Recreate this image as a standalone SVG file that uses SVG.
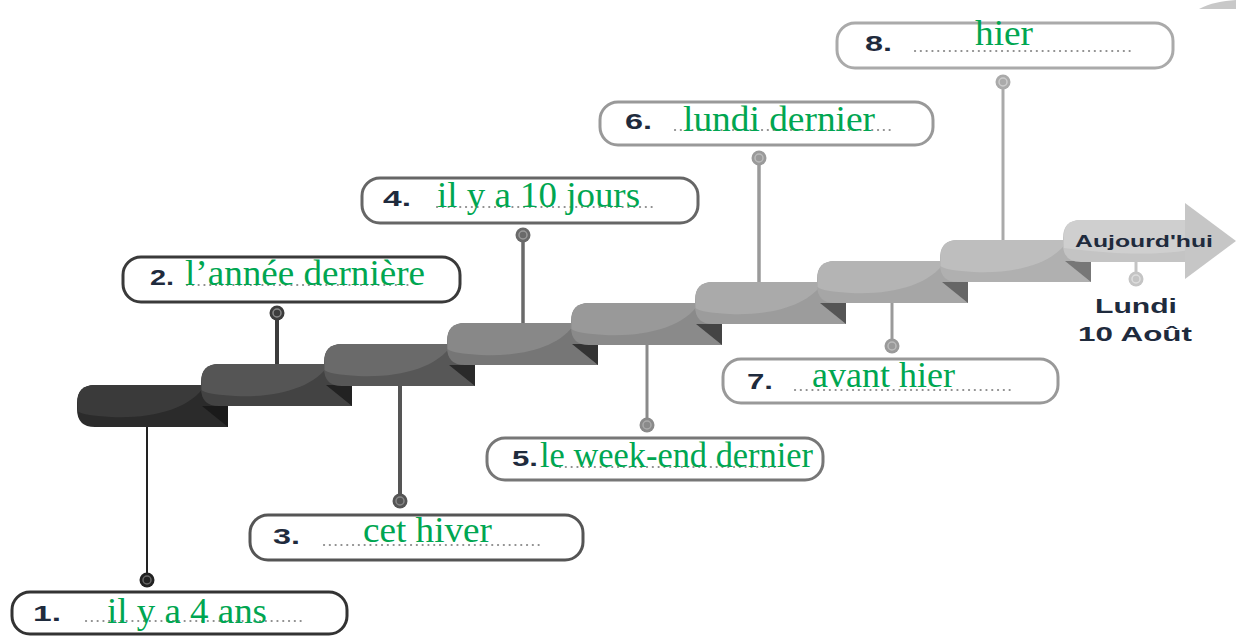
<svg xmlns="http://www.w3.org/2000/svg" xmlns:xlink="http://www.w3.org/1999/xlink" width="1236" height="637" viewBox="0 0 1236 637">
<style>
.box{fill:#fff;stroke-width:3}
.num{font-family:"Liberation Sans",Arial,sans-serif;font-weight:bold;font-size:22px;fill:#1f2b3d}
.ans{font-family:"Liberation Serif","Times New Roman",serif;font-size:36px;fill:#00a651}
.dots{stroke:#8c8c8c;stroke-width:2.2;stroke-linecap:round;stroke-dasharray:0.1 5.7;fill:none}
.info{font-family:"Liberation Sans",Arial,sans-serif;font-weight:bold;fill:#1f2b3d}
</style>
<defs>
<path id="sBase" d="M18,0 H151 V42 H18 Q0,42 0,24 V18 Q0,0 18,0 Z"/>
<path id="sTop" d="M18,0 H128 C114,24 74,34 34,32 C16,31 3,29 0.5,26 V18 Q0,0 18,0 Z"/>
<path id="sTri" d="M125,21 H151 V42 Z"/>
</defs>
<rect width="1236" height="637" fill="#fff"/>
<path d="M1199,9 C1210,3 1222,1 1236,0 V9 Z" fill="#c8c8c8"/>

<g id="connectors">
<line x1="147" y1="420" x2="147" y2="574" stroke="#222" stroke-width="2"/>
<line x1="277" y1="318" x2="277" y2="370" stroke="#3c3c3c" stroke-width="4"/>
<line x1="400" y1="380" x2="400" y2="496" stroke="#555" stroke-width="4"/>
<line x1="523" y1="240" x2="523" y2="328" stroke="#6a6a6a" stroke-width="3.5"/>
<line x1="647" y1="340" x2="647" y2="419" stroke="#8a8a8a" stroke-width="3"/>
<line x1="759" y1="163" x2="759" y2="286" stroke="#9a9a9a" stroke-width="3.5"/>
<line x1="892" y1="295" x2="892" y2="341" stroke="#9a9a9a" stroke-width="3"/>
<line x1="1003" y1="88" x2="1003" y2="244" stroke="#aaa" stroke-width="3"/>
<line x1="1136" y1="258" x2="1136" y2="274" stroke="#c4c4c4" stroke-width="3"/>
<g stroke-width="1.5">
<circle cx="147" cy="580" r="7.5" fill="#222"/><circle cx="147" cy="580" r="4" fill="#222" stroke="#666"/>
<circle cx="277" cy="313" r="7.5" fill="#3c3c3c"/><circle cx="277" cy="313" r="4" fill="#3c3c3c" stroke="#888"/>
<circle cx="400" cy="501" r="7.5" fill="#555"/><circle cx="400" cy="501" r="4" fill="#555" stroke="#888"/>
<circle cx="523" cy="235" r="7.5" fill="#6a6a6a"/><circle cx="523" cy="235" r="4" fill="#6a6a6a" stroke="#999"/>
<circle cx="647" cy="425" r="7.5" fill="#8a8a8a"/><circle cx="647" cy="425" r="4" fill="#8a8a8a" stroke="#aaa"/>
<circle cx="759" cy="158" r="7.5" fill="#9a9a9a"/><circle cx="759" cy="158" r="4" fill="#9a9a9a" stroke="#bbb"/>
<circle cx="892" cy="346" r="7.5" fill="#9a9a9a"/><circle cx="892" cy="346" r="4" fill="#9a9a9a" stroke="#bbb"/>
<circle cx="1003" cy="82" r="7.5" fill="#aaa"/><circle cx="1003" cy="82" r="4" fill="#aaa" stroke="#ccc"/>
<circle cx="1136" cy="279" r="7.5" fill="#c4c4c4"/><circle cx="1136" cy="279" r="4" fill="#c4c4c4" stroke="#ddd"/>
</g>
</g>

<g id="steps">
<g id="step1" transform="translate(77,385)"><use xlink:href="#sBase" fill="#2b2b2b"/><use xlink:href="#sTop" fill="#3a3a3a"/><use xlink:href="#sTri" fill="#1a1a1a"/></g>
<g id="step2" transform="translate(201,364)"><use xlink:href="#sBase" fill="#434343"/><use xlink:href="#sTop" fill="#555"/><use xlink:href="#sTri" fill="#222"/></g>
<g id="step3" transform="translate(324,344)"><use xlink:href="#sBase" fill="#575757"/><use xlink:href="#sTop" fill="#6a6a6a"/><use xlink:href="#sTri" fill="#2a2a2a"/></g>
<g id="step4" transform="translate(447,323)"><use xlink:href="#sBase" fill="#767676"/><use xlink:href="#sTop" fill="#888"/><use xlink:href="#sTri" fill="#333"/></g>
<g id="step5" transform="translate(571,303)"><use xlink:href="#sBase" fill="#8a8a8a"/><use xlink:href="#sTop" fill="#999"/><use xlink:href="#sTri" fill="#444"/></g>
<g id="step6" transform="translate(695,282)"><use xlink:href="#sBase" fill="#9c9c9c"/><use xlink:href="#sTop" fill="#aaa"/><use xlink:href="#sTri" fill="#555"/></g>
<g id="step7" transform="translate(817,261)"><use xlink:href="#sBase" fill="#a6a6a6"/><use xlink:href="#sTop" fill="#b4b4b4"/><use xlink:href="#sTri" fill="#666"/></g>
<g id="step8" transform="translate(940,240)"><use xlink:href="#sBase" fill="#b0b0b0"/><use xlink:href="#sTop" fill="#bebebe"/><use xlink:href="#sTri" fill="#777"/></g>
<g id="arrow">
<path d="M1081,220 H1190 V262 H1081 Q1063,262 1063,244 V238 Q1063,220 1081,220 Z" fill="#c4c4c4"/>
<path d="M1081,220 H1190 V250 C1150,256 1110,254 1064,248 V238 Q1063,220 1081,220 Z" fill="#cfcfcf"/>
<path d="M1185,203 L1236,241 L1185,279 Z" fill="#c6c6c6"/>
<text class="info" x="1075" y="247" font-size="17" textLength="138" lengthAdjust="spacingAndGlyphs">Aujourd'hui</text>
</g>
<g id="today">
<text class="info" x="1095" y="313" font-size="21" textLength="82" lengthAdjust="spacingAndGlyphs">Lundi</text>
<text class="info" x="1078" y="341" font-size="21" textLength="114" lengthAdjust="spacingAndGlyphs">10 Août</text>
</g>
</g>

<g id="box1">
<rect class="box" x="12" y="592" width="335" height="42" rx="18" stroke="#333"/>
<text class="num" x="33" y="621" textLength="28" lengthAdjust="spacingAndGlyphs">1.</text>
<line class="dots" x1="86" y1="621" x2="302" y2="621"/>
<text class="ans" x="107" y="623" textLength="160" lengthAdjust="spacingAndGlyphs">il y a 4 ans</text>
</g>
<g id="box2">
<rect class="box" x="123" y="257" width="337" height="45" rx="18" stroke="#3a3a3a"/>
<text class="num" x="150" y="285" textLength="24" lengthAdjust="spacingAndGlyphs">2.</text>
<line class="dots" x1="187" y1="285" x2="408" y2="285"/>
<text class="ans" x="185" y="285" textLength="240" lengthAdjust="spacingAndGlyphs">l’année dernière</text>
</g>
<g id="box3">
<rect class="box" x="250" y="515" width="333" height="45" rx="18" stroke="#555"/>
<text class="num" x="273" y="544" textLength="27" lengthAdjust="spacingAndGlyphs">3.</text>
<line class="dots" x1="324" y1="545" x2="540" y2="545"/>
<text class="ans" x="363" y="542" textLength="129" lengthAdjust="spacingAndGlyphs">cet hiver</text>
</g>
<g id="box4">
<rect class="box" x="362" y="178" width="336" height="45" rx="18" stroke="#666"/>
<text class="num" x="383" y="206" textLength="28" lengthAdjust="spacingAndGlyphs">4.</text>
<line class="dots" x1="437" y1="207" x2="652" y2="207"/>
<text class="ans" x="437" y="207" textLength="203" lengthAdjust="spacingAndGlyphs">il y a 10 jours</text>
</g>
<g id="box5">
<rect class="box" x="487" y="438" width="336" height="42" rx="18" stroke="#777"/>
<text class="num" x="512" y="466" textLength="26" lengthAdjust="spacingAndGlyphs">5.</text>
<line class="dots" x1="560" y1="467" x2="777" y2="467"/>
<text class="ans" x="540" y="467" textLength="273" lengthAdjust="spacingAndGlyphs">le week-end dernier</text>
</g>
<g id="box6">
<rect class="box" x="600" y="102" width="333" height="43" rx="18" stroke="#999"/>
<text class="num" x="625" y="129" textLength="27" lengthAdjust="spacingAndGlyphs">6.</text>
<line class="dots" x1="675" y1="130" x2="890" y2="130"/>
<text class="ans" x="683" y="131" textLength="192" lengthAdjust="spacingAndGlyphs">lundi dernier</text>
</g>
<g id="box7">
<rect class="box" x="723" y="359" width="335" height="44" rx="18" stroke="#999"/>
<text class="num" x="747" y="389" textLength="26" lengthAdjust="spacingAndGlyphs">7.</text>
<line class="dots" x1="795" y1="390" x2="1013" y2="390"/>
<text class="ans" x="812" y="387" textLength="143" lengthAdjust="spacingAndGlyphs">avant hier</text>
</g>
<g id="box8">
<rect class="box" x="837" y="23" width="336" height="45" rx="18" stroke="#aaa"/>
<text class="num" x="865" y="51" textLength="27" lengthAdjust="spacingAndGlyphs">8.</text>
<line class="dots" x1="915" y1="51" x2="1132" y2="51"/>
<text class="ans" x="975" y="45" textLength="58" lengthAdjust="spacingAndGlyphs">hier</text>
</g>
</svg>
